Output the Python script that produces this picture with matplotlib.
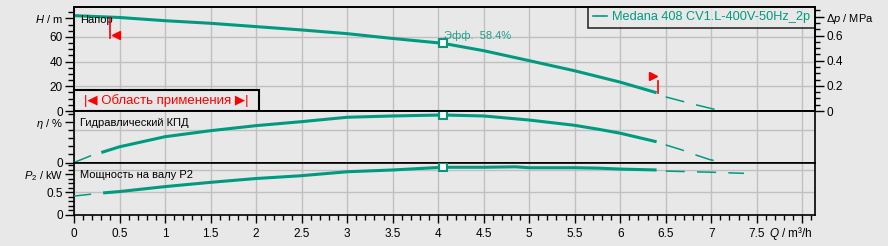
import matplotlib
matplotlib.use("Agg")
import matplotlib.pyplot as plt
from matplotlib.lines import Line2D
from matplotlib.patches import Rectangle
from matplotlib.ticker import MultipleLocator, FixedLocator

plt.rcParams["font.family"] = ["Liberation Sans", "DejaVu Sans"]
plt.rcParams["mathtext.fontset"] = "custom"
plt.rcParams["mathtext.it"] = "Liberation Sans:italic"
plt.rcParams["mathtext.rm"] = "Liberation Sans"

BG = "#e8e8e8"
TEAL = "#009a80"
GRID = "#c0c0c0"
RED = "#ff0000"

PUMP_NAME = "Medana 408 CV1.L-400V-50Hz_2p"

# head curve H(Q), m
Q_HEAD = [0, 0.5, 1, 1.5, 2, 2.5, 3, 3.5, 4.05, 4.5, 5, 5.5, 6, 6.4]
HEAD = [77.3, 75.8, 73.2, 71.1, 68.4, 65.7, 62.7, 58.8, 54.9, 48.9, 40.8, 32.6, 23.4, 14.8]
Q_HEAD_EXT = [6.5, 6.8, 7.0, 7.1]
HEAD_EXT = [11.4, 5.6, 2.0, 0.3]

# hydraulic efficiency, %
Q_EFF = [0.3, 0.5, 1, 1.5, 2, 2.5, 3, 3.5, 4.05, 4.5, 5, 5.5, 5.77, 6, 6.4]
EFF = [12.3, 19.3, 31.7, 39.1, 45.3, 50.2, 55.6, 57.2, 58.4, 57.2, 52.2, 45.7, 40.7, 36.0, 25.5]
Q_EFF_START = [0, 0.18]
EFF_START = [0, 8.1]
Q_EFF_EXT = [6.5, 6.68, 6.8, 6.98, 7.12]
EFF_EXT = [21.6, 15.4, 10.4, 3.7, 0.0]

# shaft power P2, kW
Q_POW = [0.32, 0.5, 1, 1.5, 2, 2.48, 3, 3.5, 4.05, 4.5, 4.85, 5, 5.5, 5.77, 6, 6.4]
POWER = [0.48, 0.51, 0.62, 0.715, 0.80, 0.86, 0.95, 0.99, 1.05, 1.05, 1.06, 1.04, 1.04, 1.03, 1.01, 0.99]
Q_POW_START = [0, 0.18]
POW_START = [0.41, 0.45]
Q_POW_EXT = [6.5, 7.0, 7.36]
POW_EXT = [0.965, 0.94, 0.915]

# duty point
Q_DUTY = 4.05
H_DUTY = 54.9
EFF_DUTY = 58.4
P_DUTY = 1.05

# limits of application range
Q_MIN = 0.4
Q_MAX = 6.42

X_TICKS = [0, 0.5, 1, 1.5, 2, 2.5, 3, 3.5, 4, 4.5, 5, 5.5, 6, 6.5, 7, 7.5, 8]
X_LABELS = ["0", "0.5", "1", "1.5", "2", "2.5", "3", "3.5", "4", "4.5",
            "5", "5.5", "6", "6.5", "7", "7.5", ""]

W, H = 888, 246


def px_axes(left, top, right, bottom):
    return [left / W, 1 - bottom / H, (right - left) / W, (bottom - top) / H]


def style_axes(ax, ymax):
    ax.set_facecolor(BG)
    ax.set_xlim(0, 8.14)
    ax.set_ylim(0, ymax)
    for s in ax.spines.values():
        s.set_linewidth(1.2)
        s.set_color("black")
    ax.xaxis.set_major_locator(FixedLocator(X_TICKS))
    ax.xaxis.set_minor_locator(MultipleLocator(0.1))
    ax.grid(axis="x", color=GRID, linewidth=1.0)
    ax.set_axisbelow(True)
    ax.tick_params(axis="y", which="major", direction="out", length=6.5,
                   width=1.0, labelsize=8.5, pad=1.5)
    ax.tick_params(axis="y", which="minor", direction="out", length=4,
                   width=1.0)
    ax.tick_params(axis="x", which="both", bottom=False, labelbottom=False)


def shrink_last_label(ax):
    # the axis name sits in place of the top tick label
    labels = ax.get_yticklabels()
    labels[-1].set_fontsize(8)


def plot_curve(ax, q, v, q0, v0, q1, v1):
    ax.plot(q, v, color=TEAL, linewidth=2.2, solid_capstyle="butt", zorder=3)
    if q0 is not None:
        ax.plot(q0, v0, color=TEAL, linewidth=1.1, zorder=3)
    ax.plot(q1, v1, color=TEAL, linewidth=1.1, dashes=(12.5, 8), zorder=3)


def plot_chart():

    fig = plt.figure(figsize=(W / 100, H / 100), dpi=100, facecolor=BG)

    ax_h = fig.add_axes(px_axes(74, 7, 815, 111))
    ax_e = fig.add_axes(px_axes(74, 111, 815, 162.5))
    ax_p = fig.add_axes(px_axes(74, 162.5, 815, 214.5))

    # ---- head panel
    style_axes(ax_h, 84.3)
    for y in [20, 40, 60]:
        ax_h.axhline(y, color=GRID, linewidth=1.0, zorder=1)
    ax_h.yaxis.set_major_locator(FixedLocator([0, 20, 40, 60, 75]))
    ax_h.set_yticklabels(["0", "20", "40", "60", r"$H$ / m"])
    ax_h.yaxis.set_minor_locator(MultipleLocator(5))
    shrink_last_label(ax_h)

    plot_curve(ax_h, Q_HEAD, HEAD, None, None, Q_HEAD_EXT, HEAD_EXT)
    ax_h.plot(Q_DUTY, H_DUTY, marker="s", markersize=5.5, markerfacecolor="white",
              markeredgecolor=TEAL, markeredgewidth=1.5, zorder=4)
    ax_h.text(Q_DUTY + 0.02, H_DUTY + 6, "Эфф.  58.4%", color="#1a9e8a",
              fontsize=8, ha="left", va="center")
    ax_h.text(0.008, 0.875, "Напор", transform=ax_h.transAxes, fontsize=8,
              ha="left", va="center", zorder=5)

    # application range markers
    ax_h.plot([Q_MIN, Q_MIN], [59.2, 75.4], color=RED, linewidth=1.2, zorder=5)
    ax_h.plot(Q_MIN + 0.056, 61.4, marker="<", markersize=6, color=RED, zorder=5)
    ax_h.plot([Q_MAX, Q_MAX], [14.8, 24.6], color=RED, linewidth=1.2, zorder=5)
    ax_h.plot(Q_MAX - 0.06, 28.0, marker=">", markersize=6, color=RED, zorder=5)

    ax_h.add_patch(Rectangle((0, 0.004), 0.2497, 0.196, transform=ax_h.transAxes,
                             facecolor=BG, edgecolor="black", linewidth=1.5,
                             zorder=6, clip_on=False))
    ax_h.text(0.1248, 0.1, "|◀ Область применения ▶|", transform=ax_h.transAxes,
              color=RED, fontsize=9.5, ha="center", va="center", zorder=7)

    handle = Line2D([], [], color=TEAL, linewidth=1.2)
    leg = ax_h.legend([handle], [PUMP_NAME], loc="upper right", fontsize=9.2,
                      labelcolor=TEAL, frameon=True, fancybox=False,
                      borderaxespad=0, handlelength=1.1, handletextpad=0.45,
                      borderpad=0.35)
    leg.get_frame().set_edgecolor("black")
    leg.get_frame().set_facecolor(BG)
    leg.get_frame().set_linewidth(1.2)
    leg.set_zorder(8)

    ax_dp = ax_h.twinx()
    ax_dp.set_ylim(0, 84.3 * 0.00981)
    ax_dp.yaxis.set_major_locator(FixedLocator([0, 0.2, 0.4, 0.6, 0.75]))
    ax_dp.set_yticklabels(["0", "0.2", "0.4", "0.6", r"$\Delta p$ / MPa"])
    ax_dp.yaxis.set_minor_locator(MultipleLocator(0.05))
    ax_dp.tick_params(axis="y", which="major", direction="out", length=6.5,
                      width=1.0, labelsize=8.5, pad=1.5)
    ax_dp.tick_params(axis="y", which="minor", direction="out", length=3.5,
                      width=1.0)
    ax_dp.get_yticklabels()[-1].set_fontsize(8)
    for s in ax_dp.spines.values():
        s.set_linewidth(1.2)

    # ---- efficiency panel
    style_axes(ax_e, 63.3)
    ax_e.axhline(40, color=GRID, linewidth=1.0, zorder=1)
    ax_e.yaxis.set_major_locator(FixedLocator([0, 50]))
    ax_e.set_yticklabels(["0", r"$\eta$ / %"])
    ax_e.yaxis.set_minor_locator(MultipleLocator(10))
    shrink_last_label(ax_e)
    plot_curve(ax_e, Q_EFF, EFF, Q_EFF_START, EFF_START, Q_EFF_EXT, EFF_EXT)
    ax_e.plot(Q_DUTY, EFF_DUTY, marker="s", markersize=5.5, markerfacecolor="white",
              markeredgecolor=TEAL, markeredgewidth=1.5, zorder=4, clip_on=False)
    ax_e.text(0.008, 0.767, "Гидравлический КПД", transform=ax_e.transAxes,
              fontsize=8, ha="left", va="center")

    # ---- power panel
    style_axes(ax_p, 1.156)
    for y in [0.5, 1.0]:
        ax_p.axhline(y, color=GRID, linewidth=1.0, zorder=1)
    ax_p.yaxis.set_major_locator(FixedLocator([0, 0.5, 0.9]))
    ax_p.set_yticklabels(["0", "0.5", r"$P_2$ / kW"])
    ax_p.yaxis.set_minor_locator(MultipleLocator(0.1))
    shrink_last_label(ax_p)
    plot_curve(ax_p, Q_POW, POWER, Q_POW_START, POW_START, Q_POW_EXT, POW_EXT)
    ax_p.plot(Q_DUTY, P_DUTY, marker="s", markersize=5.5, markerfacecolor="white",
              markeredgecolor=TEAL, markeredgewidth=1.5, zorder=4)
    ax_p.text(0.008, 0.76, "Мощность на валу P2", transform=ax_p.transAxes,
              fontsize=8, ha="left", va="center")

    ax_p.tick_params(axis="x", which="major", bottom=True, labelbottom=True,
                     direction="out", length=6, width=1.0, labelsize=8.5, pad=3.5)
    ax_p.tick_params(axis="x", which="minor", bottom=True, direction="out",
                     length=3.5, width=1.0)
    ax_p.set_xticklabels(X_LABELS)

    fig.text(813 / W, 1 - 233 / H, r"$Q$ / m³/h", fontsize=8.5,
             ha="right", va="center")

    fig.savefig("out.png", dpi=100, facecolor=BG)
    plt.close(fig)


if __name__ == "__main__":
    plot_chart()
